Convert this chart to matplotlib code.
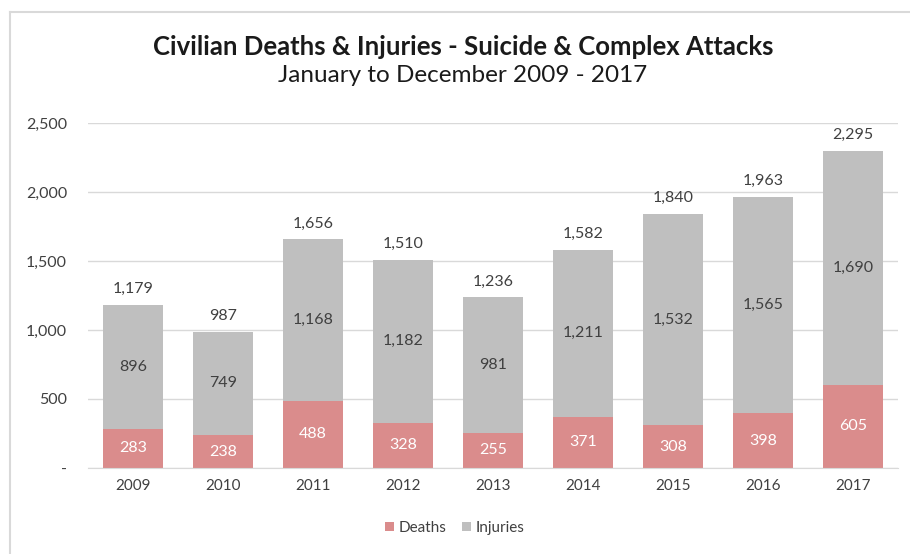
import matplotlib
matplotlib.use('Agg')
import matplotlib.pyplot as plt
import matplotlib.ticker as ticker
from matplotlib.lines import Line2D
import numpy as np

plt.rcParams['font.family'] = ['Lato', 'DejaVu Sans']

years = ['2009', '2010', '2011', '2012', '2013', '2014', '2015', '2016', '2017']
deaths = [283, 238, 488, 328, 255, 371, 308, 398, 605]
injuries = [896, 749, 1168, 1182, 981, 1211, 1532, 1565, 1690]

death_col = '#DA8C8C'
inj_col = '#BFBFBF'
txt_col = '#404040'

deaths = np.array(deaths)
injuries = np.array(injuries)
totals = deaths + injuries
x = np.arange(len(years))

fig = plt.figure(figsize=(9.1, 5.54), dpi=100)
ax = fig.add_axes([88/910, 1 - 468/554, 810/910, 345/554])

ax.bar(x, deaths, width=0.67, color=death_col, label='Deaths', zorder=2)
ax.bar(x, injuries, width=0.67, bottom=deaths, color=inj_col, label='Injuries', zorder=2)

for i in range(len(years)):
   ax.text(x[i], deaths[i]/2, '{:,}'.format(deaths[i]), ha='center', va='center',
           color='white', fontsize=11.5)
   ax.text(x[i], deaths[i] + injuries[i]/2, '{:,}'.format(injuries[i]), ha='center',
           va='center', color=txt_col, fontsize=11.5)
   ax.text(x[i], totals[i] + 65, '{:,}'.format(totals[i]), ha='center', va='bottom',
           color=txt_col, fontsize=11.5)

ax.set_xlim(-0.5, len(years) - 0.5)
ax.set_ylim(0, 2500)
ax.set_yticks(np.arange(0, 2501, 500))
ax.yaxis.set_major_formatter(ticker.FuncFormatter(lambda v, p: '-' if v == 0 else '{:,}'.format(int(v))))
ax.set_xticks(x)
ax.set_xticklabels(years)
ax.grid(axis='y', color='#D9D9D9', lw=1, zorder=0)
for s in ['top', 'right', 'left']:
   ax.spines[s].set_visible(False)
ax.spines['bottom'].set_color('#D9D9D9')
ax.tick_params(length=0, labelcolor=txt_col)
ax.tick_params(axis='y', pad=15, labelsize=11.5)
ax.tick_params(axis='x', pad=8, labelsize=11)

fig.text(463/910, 1 - 47/554, 'Civilian Deaths & Injuries - Suicide & Complex Attacks',
         ha='center', va='center', fontsize=18.5, fontweight='bold', color='#1a1a1a')
fig.text(463/910, 1 - 76/554, 'January to December 2009 - 2017',
         ha='center', va='center', fontsize=17.5, color='#1a1a1a')

fig.legend(loc='center', bbox_to_anchor=(455/910, 1 - 528/554), ncol=2, frameon=False,
           fontsize=11, handlelength=0.6, handleheight=0.6, handletextpad=0.3,
           columnspacing=1.0, labelcolor=txt_col)

fig.add_artist(Line2D([10/910, 10/910], [0, 1 - 12/554], color='#D9D9D9', lw=1.5))
fig.add_artist(Line2D([10/910, 1], [1 - 12/554, 1 - 12/554], color='#D9D9D9', lw=1.5))

fig.savefig('out.png', dpi=100)
